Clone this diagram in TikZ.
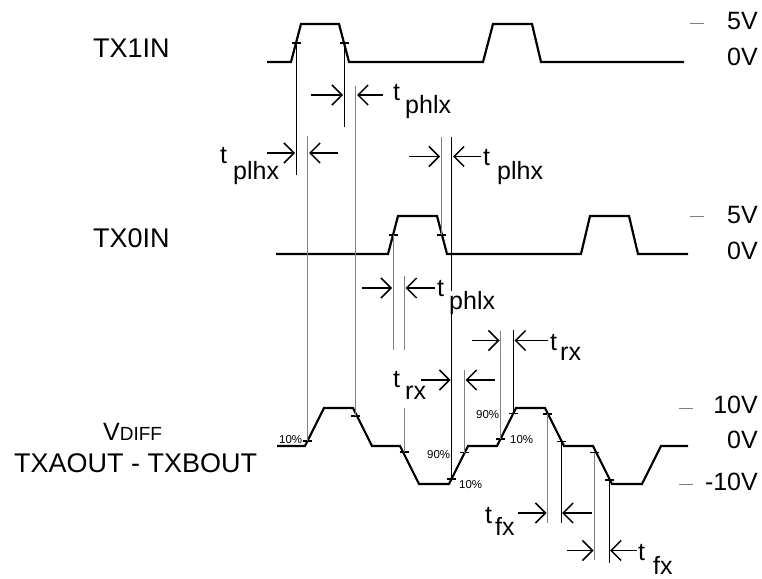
\documentclass[tikz,border=0pt]{standalone}
\usepackage{fontspec}
\setmainfont{Liberation Sans}
\usetikzlibrary{arrows.meta}
\begin{document}
\begin{tikzpicture}[x=1pt,y=-1pt,
  wave/.style={line width=2.2pt, line join=miter},
  tk/.style={line width=1.5pt},
  vb/.style={line width=1pt, black},
  vg/.style={line width=1pt, black!50},
  arr/.style={line width=1.5pt, -{Straight Barb[length=10pt,width=20pt]}},
  tl/.style={inner sep=0pt, anchor=base west, font=\fontsize{25}{25}\selectfont},
  sub/.style={tl, fill=white},
  big/.style={inner sep=0pt, anchor=base west, font=\fontsize{27}{27}\selectfont},
  volt/.style={inner sep=0pt, anchor=base east, font=\fontsize{25}{25}\selectfont},
  pct/.style={inner sep=0pt, anchor=base west, font=\fontsize{11.5}{11.5}\selectfont},
  dsh/.style={line width=1pt, black!50}]
\useasboundingbox (0,0) rectangle (762,578);

% waveforms
\draw[wave] (267,62) -- (291,62) -- (301,24) -- (339,24) -- (349,62) -- (483,62) -- (493,24) -- (532,24) -- (541,62) -- (684,62);
\draw[wave] (276,254) -- (388,254) -- (398,216) -- (437,216) -- (447,254) -- (581,254) -- (590,216) -- (629,216) -- (638,254) -- (688,254);
\draw[wave] (277,446) -- (305,446) -- (324,408) -- (353,408) -- (372,446) -- (400,446) -- (419,484) -- (449,484) -- (468,446) -- (497,446) -- (516,408) -- (545,408) -- (564,446) -- (593,446) -- (612,484) -- (642,484) -- (661,446) -- (688,446);

% tick points
\coordinate (a1) at (296,43);
\coordinate (a2) at (344.5,43);
\coordinate (b1) at (393,235);
\coordinate (b2) at (441.5,235);
\coordinate (c1) at (307.5,441);
\coordinate (c2) at (355.5,416);
\coordinate (c3) at (404,452);
\coordinate (c4) at (451.5,479);
\coordinate (c5) at (464.5,452.5);
\coordinate (c6) at (500.5,439);
\coordinate (c7) at (513.5,413.5);
\coordinate (c8) at (547.5,414);
\coordinate (c9) at (561,441.5);
\coordinate (c10) at (594.5,452.5);
\coordinate (c11) at (609,480);
\foreach \c in {a1,a2,b1,b2,c1,c2,c3,c4,c5,c6,c7,c8,c9,c10,c11}
  \draw[tk] ([xshift=-4.5pt]\c) -- ([xshift=4.5pt]\c);

% line ends
\coordinate (a1e) at (296,175);
\coordinate (c1e) at (307.5,136);
\coordinate (a2e) at (344.5,127);
\coordinate (c2e) at (355.5,86);
\coordinate (b2e) at (441.5,137);
\coordinate (c4e) at (451.5,137);
\coordinate (b1e) at (393,350);
\coordinate (c3t) at (404,276);
\coordinate (c3m) at (404,350);
\coordinate (c3n) at (404,408);
\coordinate (c5e) at (464.5,370);
\coordinate (c6e) at (500.5,331);
\coordinate (c7e) at (513.5,330);
\coordinate (c8e) at (547.5,523);
\coordinate (c9e) at (561,523);
\coordinate (c10e) at (594.5,560);
\coordinate (c11e) at (609,563);

\draw[vb] (a1) -- (a1e);
\draw[vg] (c1) -- (c1e);
\draw[vb] (a2) -- (a2e);
\draw[vg] (c2) -- (c2e);
\draw[vg] (b2) -- (b2e);
\draw[vb] (c4) -- (c4e);
\draw[vg] (b1) -- (b1e);
\draw[vg] (c3t) -- (c3m);
\draw[vg] (c3n) -- (c3);
\draw[vg] (c5) -- (c5e);
\draw[vg] (c6) -- (c6e);
\draw[vb] (c7) -- (c7e);
\draw[vg] (c8) -- (c8e);
\draw[vb] (c9) -- (c9e);
\draw[vg] (c10) -- (c10e);
\draw[vb] (c11) -- (c11e);

% timing labels
\node[tl]  (t1)  at (393,100) {t};
\node[sub] (s1)  at (405,113) {phlx};
\node[tl]  (t2)  at (220,163) {t};
\node[sub] (s2)  at (233,179) {plhx};
\node[tl]  (t3)  at (483,165) {t};
\node[sub] (s3)  at (497,179) {plhx};
\node[tl]  (t4)  at (437,296) {t};
\node[sub] (s4)  at (449,309) {phlx};
\node[tl]  (t5)  at (393,387) {t};
\node[sub] (s5)  at (405,399) {rx};
\node[tl]  (t6)  at (550,350) {t};
\node[sub] (s6)  at (560,360) {rx};
\node[tl]  (t7)  at (485,523) {t};
\node[sub] (s7)  at (495,535) {fx};
\node[tl]  (t8)  at (638,560) {t};
\node[sub] (s8)  at (653,574) {fx};

% arrows
\coordinate (p1a) at (311,95);   \coordinate (p1b) at (343,95);
\coordinate (q1a) at (383,95);   \coordinate (q1b) at (357,95);
\coordinate (p2a) at (267,153);  \coordinate (p2b) at (295,153);
\coordinate (q2a) at (338,153);  \coordinate (q2b) at (309,153);
\coordinate (p3a) at (409,156.5);\coordinate (p3b) at (440,156.5);
\coordinate (q3a) at (481,156.5);\coordinate (q3b) at (453,156.5);
\coordinate (p4a) at (362,288);  \coordinate (p4b) at (392,288);
\coordinate (q4a) at (435,288);  \coordinate (q4b) at (405.5,288);
\coordinate (p5a) at (421,380);  \coordinate (p5b) at (450.5,380);
\coordinate (q5a) at (495,380);  \coordinate (q5b) at (465.5,380);
\coordinate (p6a) at (471.5,340.5); \coordinate (p6b) at (499.5,340.5);
\coordinate (q6a) at (548,340.5);   \coordinate (q6b) at (514.5,340.5);
\coordinate (p7a) at (518,513);  \coordinate (p7b) at (546.5,513);
\coordinate (q7a) at (591.5,513);\coordinate (q7b) at (562,513);
\coordinate (p8a) at (566.5,550.5); \coordinate (p8b) at (593.5,550.5);
\coordinate (q8a) at (636.5,550.5); \coordinate (q8b) at (610,550.5);
\foreach \i in {1,...,8} {
  \draw[arr] (p\i a) -- (p\i b);
  \draw[arr] (q\i a) -- (q\i b);
}

% percent labels
\node[pct] (r1) at (279,443) {10\%};
\node[pct] (r2) at (427,458) {90\%};
\node[pct] (r3) at (459,488) {10\%};
\node[pct] (r4) at (476,418) {90\%};
\node[pct] (r5) at (510,443) {10\%};

% voltage labels and marks
\node[volt] (v1) at (758,30) {5V};
\node[volt] (v2) at (758,65) {0V};
\node[volt] (v3) at (758,223) {5V};
\node[volt] (v4) at (758,259) {0V};
\node[volt] (v5) at (758,413) {10V};
\node[volt] (v6) at (758,448) {0V};
\node[volt] (v7) at (758,490) {-10V};
\draw[dsh] (690,24) -- (704,24);
\draw[dsh] (690,216) -- (704,216);
\draw[dsh] (679,408) -- (693,408);
\draw[dsh] (679,484) -- (693,484);

% signal names
\node[big] (n1) at (93,57) {TX1IN};
\node[big] (n2) at (93,247) {TX0IN};
\node[inner sep=0pt, anchor=base west] (n3) at (103,440) {\fontsize{25}{25}\selectfont V\fontsize{19}{19}\selectfont DIFF};
\node[big] (n4) at (14,472) {TXAOUT - TXBOUT};
\end{tikzpicture}
\end{document}
